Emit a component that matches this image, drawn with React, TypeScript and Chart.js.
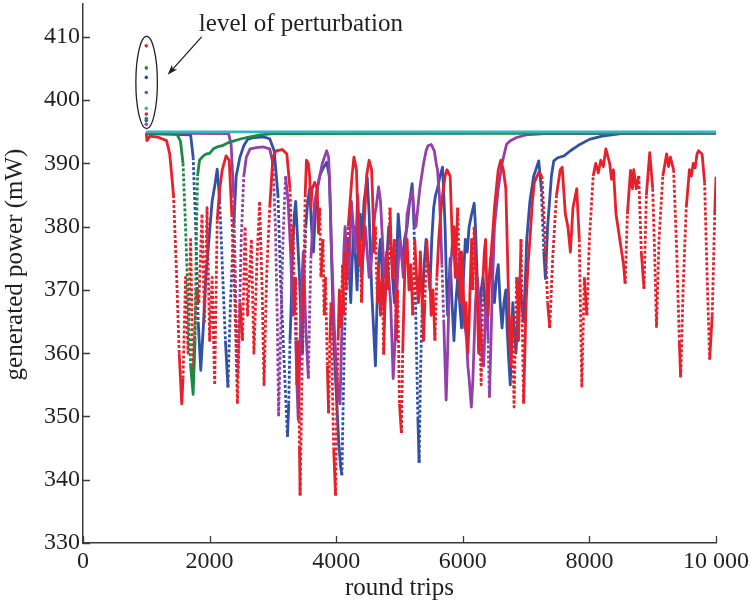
import React, { useEffect, useRef } from "react";
import { Chart, registerables } from "chart.js";

Chart.register(...registerables);

// ---------- axes ----------
const xTicks = [0, 2000, 4000, 6000, 8000, 10000];
const xTickLabels = ["0", "2000", "4000", "6000", "8000", "10 000"];
const yTicks = [330, 340, 350, 360, 370, 380, 390, 400, 410];
const yTickLabels = ["330", "340", "350", "360", "370", "380", "390", "400", "410"];
const xTitle = "round trips";
const yTitle = "generated power (mW)";
const annotationText = "level of perturbation";

// ---------- perturbation levels at round trip 1000 ----------
const perturbX = [1000, 1000, 1000, 1000, 1000, 1000, 1000, 1000, 1000];
const perturbY = [408.6, 405.1, 403.6, 401.2, 398.7, 397.8, 397.1, 396.8, 396.2];
const perturbColor = ["red", "green", "blue", "purple", "cyan", "red", "green", "blue", "purple"];

// ---------- series ----------
const cyanData: [number, number][] = [[1000, 395.0], [10000, 395.0]];

const greenData: [number, number][] = [
  [1000, 394.8], [1480, 394.7], [1540, 393.5], [1580, 390], [1620, 380], [1660, 368], [1700, 358],
  [1740, 353.5], [1770, 362], [1790, 378], [1810, 388], [1840, 390.5], [1900, 391.2], [1950, 391.5],
  [2000, 391.6], [2060, 392.3], [2120, 392.6], [2200, 392.8], [2300, 393.3], [2400, 393.6],
  [2500, 393.9], [2600, 394.1], [2800, 394.5], [3000, 394.7], [10000, 394.8],
];

const redData: [number, number][] = [
  [1000, 394.8], [1010, 393.6], [1060, 394.3], [1200, 394.1], [1320, 393.6], [1370, 391.5], [1430, 385],
  [1480, 372], [1520, 360], [1560, 352], [1580, 356], [1620, 372], [1660, 360], [1700, 378], [1740, 356],
  [1790, 370], [1830, 368], [1880, 382], [1920, 365], [1960, 383], [2000, 362], [2040, 372], [2080, 355],
  [2120, 381], [2160, 386], [2200, 389], [2260, 391.2], [2310, 390.5], [2350, 382], [2400, 368],
  [2440, 352], [2480, 368], [2520, 362], [2560, 380], [2600, 366], [2660, 378], [2700, 360], [2750, 375],
  [2790, 384], [2830, 370], [2860, 355], [2900, 372], [2950, 383], [3000, 391], [3050, 392], [3150, 392.2],
  [3220, 391.5], [3270, 386], [3300, 376], [3320, 380], [3340, 366], [3360, 372], [3380, 355], [3400, 362],
  [3420, 345], [3430, 337.5], [3450, 350], [3470, 365], [3490, 372], [3510, 385], [3530, 390.5],
  [3560, 390], [3580, 388], [3600, 383], [3620, 386], [3660, 387], [3700, 386], [3720, 379], [3740, 383],
  [3760, 372], [3790, 378], [3810, 366], [3830, 372], [3860, 358], [3880, 350.5], [3900, 362], [3920, 368],
  [3940, 355], [3960, 345], [3990, 337.5], [4010, 352], [4030, 362], [4050, 370], [4080, 364], [4100, 374],
  [4120, 366], [4140, 376], [4160, 370], [4190, 380], [4220, 384], [4250, 388], [4280, 391], [4320, 389],
  [4340, 382], [4360, 374], [4380, 378], [4400, 368], [4420, 376], [4450, 382], [4480, 388], [4520, 390.5],
  [4560, 389], [4580, 383], [4600, 376], [4620, 380], [4650, 368], [4670, 374], [4700, 366], [4730, 372],
  [4750, 359.8], [4770, 368], [4800, 376], [4820, 370], [4850, 383], [4870, 376], [4900, 372], [4920, 378],
  [4950, 362], [4970, 370], [5000, 352], [5030, 347.4], [5050, 360], [5070, 368], [5090, 375], [5120, 378],
  [5150, 370], [5180, 374], [5210, 366], [5240, 378], [5270, 372], [5300, 368], [5330, 376], [5350, 370],
  [5380, 362], [5400, 368], [5430, 378], [5450, 374], [5480, 372], [5500, 366], [5530, 370], [5560, 362],
  [5590, 372], [5620, 378], [5650, 382], [5680, 385], [5720, 388], [5750, 389], [5800, 388], [5820, 382],
  [5840, 376], [5860, 380], [5880, 372], [5900, 378], [5920, 383], [5940, 374], [5960, 368], [5980, 376],
  [6000, 372], [6030, 364], [6050, 368], [6080, 360], [6100, 365], [6120, 372], [6140, 378], [6160, 370],
  [6180, 380], [6200, 374], [6230, 368], [6250, 360], [6270, 364], [6290, 355], [6320, 372], [6340, 376],
  [6360, 378], [6380, 370], [6400, 366], [6420, 372], [6450, 376], [6480, 380], [6500, 383], [6560, 389],
  [6600, 390.5], [6640, 389], [6680, 386], [6700, 378], [6720, 370], [6740, 362], [6760, 358], [6780, 366],
  [6810, 351.5], [6830, 362], [6850, 372], [6870, 368], [6880, 362], [6900, 370], [6920, 378], [6940, 365],
  [6960, 352], [6980, 360], [7000, 368], [7030, 374], [7060, 378], [7100, 384], [7130, 387], [7200, 388.6],
  [7250, 388], [7300, 378], [7340, 368], [7374, 364], [7420, 375], [7480, 385], [7540, 389], [7570, 389.4],
  [7620, 382], [7660, 380], [7700, 376], [7740, 383], [7800, 386], [7840, 378], [7880, 354.6],
  [7920, 372], [7960, 366], [8000, 378], [8060, 388], [8100, 390], [8140, 388.5], [8180, 390.5], [8220, 389.5],
  [8260, 392.3], [8320, 390], [8350, 387.5], [8380, 389], [8420, 382], [8480, 378], [8540, 374], [8565, 371],
  [8600, 382], [8650, 388.9], [8680, 386], [8700, 389], [8740, 386], [8780, 388], [8820, 376], [8863, 370.2],
  [8900, 385], [8953, 391.7], [9000, 386], [9030, 376], [9060, 364.2], [9100, 378], [9160, 388],
  [9220, 391.5], [9250, 389.5], [9280, 391], [9330, 389], [9380, 376], [9420, 362], [9442, 356.2],
  [9480, 370], [9530, 383], [9580, 389], [9610, 388], [9640, 390], [9670, 389.3], [9700, 391.5],
  [9724, 392], [9780, 391.5], [9820, 387], [9860, 372], [9900, 359], [9940, 366], [9980, 382], [10000, 387.9],
];

const purpleData: [number, number][] = [
  [1000, 394.8], [2300, 394.7], [2340, 393], [2380, 385], [2410, 370], [2440, 356], [2470, 365],
  [2500, 378], [2540, 388], [2580, 391], [2640, 392.3], [2740, 392.5], [2850, 392.6], [2950, 392.3],
  [3000, 390], [3040, 380], [3070, 365], [3090, 350], [3120, 362], [3160, 378], [3200, 388], [3240, 384],
  [3260, 380], [3280, 376], [3300, 370], [3320, 366], [3340, 372], [3360, 362], [3380, 355], [3400, 349.5],
  [3420, 358], [3440, 366], [3460, 372], [3480, 376], [3500, 370], [3520, 364], [3540, 360], [3560, 356],
  [3580, 366], [3600, 375], [3630, 380], [3660, 384], [3700, 386], [3740, 388], [3780, 390], [3850, 392],
  [3880, 391], [3900, 386], [3920, 378], [3950, 370], [3970, 364], [4000, 358], [4030, 354], [4060, 352],
  [4080, 360], [4100, 368], [4120, 376], [4140, 380], [4170, 374], [4200, 372], [4220, 378], [4240, 384],
  [4270, 380], [4300, 376], [4320, 380], [4340, 385], [4370, 378], [4400, 372], [4430, 376], [4460, 380],
  [4490, 376], [4520, 372], [4550, 374], [4580, 378], [4610, 382], [4630, 383], [4670, 386.3], [4700, 384],
  [4720, 380], [4740, 376], [4760, 372], [4780, 374], [4800, 376], [4830, 372], [4860, 368], [4880, 362],
  [4900, 356], [4930, 362], [4950, 368], [4980, 374], [5000, 378], [5030, 376], [5060, 372], [5090, 376],
  [5120, 382], [5160, 384], [5205, 385.7], [5230, 382], [5260, 380], [5290, 383], [5320, 386], [5350, 388],
  [5380, 390], [5420, 392], [5450, 392.8], [5500, 393], [5550, 392], [5580, 390], [5600, 389], [5630, 385],
  [5650, 380], [5670, 374], [5700, 365], [5720, 358], [5737, 352.6], [5760, 360], [5780, 368], [5810, 374],
  [5840, 378], [5870, 375], [5900, 372], [5930, 374], [5950, 376], [5980, 372], [6000, 368], [6030, 365],
  [6060, 362], [6080, 358], [6100, 356], [6135, 351.5], [6160, 356], [6180, 362], [6200, 368], [6230, 372],
  [6260, 368], [6280, 365], [6300, 360], [6330, 358], [6350, 364], [6380, 370], [6400, 362], [6420, 353],
  [6440, 360], [6460, 368], [6480, 374], [6500, 380], [6560, 386], [6620, 390], [6690, 393], [6750, 393.6],
  [6850, 394.1], [7000, 394.5], [7300, 394.7], [10000, 394.8],
];

const blueData: [number, number][] = [
  [1000, 394.7], [1700, 394.5], [1740, 391], [1780, 380], [1820, 365], [1860, 357.3], [1900, 364],
  [1940, 372], [1990, 378], [2040, 384], [2090, 387], [2120, 389.1], [2160, 384], [2200, 374],
  [2250, 362], [2290, 354.6], [2330, 368], [2380, 380], [2420, 388], [2480, 391], [2540, 392.8],
  [2600, 393.8], [2700, 394.1], [2850, 394.2], [2950, 393.9], [3020, 392], [3080, 385], [3120, 372],
  [3180, 358], [3230, 346.8], [3250, 352], [3270, 362], [3290, 368], [3310, 376], [3340, 382], [3360, 384],
  [3390, 378], [3420, 372], [3440, 366], [3470, 360], [3490, 370], [3520, 380], [3550, 384], [3580, 386],
  [3610, 380], [3640, 376], [3670, 382], [3700, 386], [3740, 388], [3780, 389], [3850, 390.2], [3890, 388],
  [3910, 382], [3930, 374], [3950, 366], [3980, 358], [4010, 352], [4040, 346], [4070, 342], [4090, 340.7],
  [4110, 352], [4130, 362], [4160, 372], [4180, 378], [4200, 374], [4230, 368], [4250, 374], [4280, 380],
  [4300, 376], [4330, 370], [4350, 376], [4380, 382], [4410, 378], [4440, 384], [4490, 387.8], [4520, 382],
  [4540, 376], [4560, 370], [4580, 366], [4600, 362], [4620, 358], [4640, 366], [4660, 372], [4680, 376],
  [4700, 378], [4730, 372], [4760, 366], [4780, 370], [4800, 375], [4830, 380], [4860, 378], [4890, 372],
  [4920, 368], [4950, 374], [4980, 382], [5010, 378], [5050, 374], [5080, 378], [5120, 380], [5160, 384],
  [5200, 386.8], [5230, 380], [5250, 370], [5270, 360], [5290, 350], [5310, 342.7], [5330, 356], [5360, 368],
  [5390, 374], [5420, 378], [5450, 374], [5480, 370], [5510, 378], [5540, 383], [5570, 385], [5600, 386],
  [5640, 388], [5680, 389.4], [5700, 385], [5720, 380], [5740, 372], [5760, 366], [5780, 370], [5800, 375],
  [5830, 368], [5860, 362], [5890, 368], [5920, 372], [5950, 368], [5980, 364], [6010, 372], [6040, 378],
  [6070, 376], [6100, 380], [6140, 382], [6180, 383.7], [6200, 380], [6220, 374], [6240, 368], [6260, 364],
  [6290, 370], [6320, 372], [6350, 368], [6380, 364], [6410, 370], [6440, 375], [6470, 372], [6500, 368],
  [6530, 372], [6560, 374], [6590, 368], [6620, 364], [6650, 368], [6680, 370], [6700, 364], [6720, 360],
  [6750, 355], [6770, 362], [6790, 368], [6810, 364], [6840, 360], [6870, 366], [6900, 372], [6930, 368],
  [6960, 365], [6990, 372], [7010, 378], [7060, 384], [7120, 388], [7200, 390.4], [7240, 386], [7280, 376],
  [7305, 371.8], [7340, 380], [7400, 388], [7437, 390.4], [7500, 390.9], [7600, 391.2], [7700, 392],
  [7850, 393], [8000, 393.8], [8200, 394.3], [8500, 394.7], [10000, 394.8],
];

// ---------- annotation anchors (data space) ----------
const ellipseCenter = [1005, 402.8];
const ellipseRadius = [170, 7.3];
const arrowFrom = [1874, 410.0];
const arrowTo = [1337, 404.0];
const textAnchor = [3442, 411.0];

const COLORS: Record<string, string> = {
  red: "#e8202b",
  green: "#1b8a45",
  blue: "#3150a6",
  purple: "#9440a8",
  cyan: "#33b6bf",
};
const AXIS = "#3b3b3b";
const TEXT = "#231f20";
const FONT = "'Liberation Serif', 'Times New Roman', serif";

const toPts = (d: [number, number][]) => d.map(([x, y]) => ({ x, y }));

function seriesDataset(label: string, data: [number, number][], color: string) {
  return {
    label,
    data: toPts(data),
    showLine: true,
    borderColor: color,
    backgroundColor: color,
    borderWidth: 2.8,
    borderJoinStyle: "round",
    pointRadius: 0,
    pointHoverRadius: 0,
    segment: {
      borderDash: (ctx: any) => {
        const dx = Math.abs(ctx.p1.x - ctx.p0.x);
        const dy = Math.abs(ctx.p1.y - ctx.p0.y);
        return dy > 55 && dy > 8 * dx ? [3, 2] : undefined;
      },
    },
  };
}

const decorPlugin = {
  id: "decor",
  afterDraw(chart: any) {
    const { ctx, chartArea, scales } = chart;
    const xs = scales.x;
    const ys = scales.y;
    ctx.save();
    // inward tick marks
    ctx.strokeStyle = AXIS;
    ctx.lineWidth = 1.3;
    ctx.beginPath();
    xTicks.forEach((v) => {
      const px = Math.round(xs.getPixelForValue(v)) + 0.5;
      ctx.moveTo(px, chartArea.bottom);
      ctx.lineTo(px, chartArea.bottom - 7);
    });
    yTicks.forEach((v) => {
      const py = Math.round(ys.getPixelForValue(v)) + 0.5;
      ctx.moveTo(chartArea.left, py);
      ctx.lineTo(chartArea.left + 7, py);
    });
    ctx.stroke();

    // ellipse around perturbation levels
    const cx = xs.getPixelForValue(ellipseCenter[0]);
    const cy = ys.getPixelForValue(ellipseCenter[1]);
    const rx = Math.abs(xs.getPixelForValue(ellipseCenter[0] + ellipseRadius[0]) - cx);
    const ry = Math.abs(ys.getPixelForValue(ellipseCenter[1] + ellipseRadius[1]) - cy);
    ctx.strokeStyle = "#222";
    ctx.lineWidth = 1.3;
    ctx.beginPath();
    ctx.ellipse(cx, cy, rx, ry, 0, 0, Math.PI * 2);
    ctx.stroke();

    // arrow
    const ax0 = xs.getPixelForValue(arrowFrom[0]);
    const ay0 = ys.getPixelForValue(arrowFrom[1]);
    const ax1 = xs.getPixelForValue(arrowTo[0]);
    const ay1 = ys.getPixelForValue(arrowTo[1]);
    const ang = Math.atan2(ay1 - ay0, ax1 - ax0);
    const head = 11;
    ctx.beginPath();
    ctx.moveTo(ax0, ay0);
    ctx.lineTo(ax1 - Math.cos(ang) * 6, ay1 - Math.sin(ang) * 6);
    ctx.stroke();
    ctx.fillStyle = "#222";
    ctx.beginPath();
    ctx.moveTo(ax1, ay1);
    ctx.lineTo(ax1 - head * Math.cos(ang - 0.33), ay1 - head * Math.sin(ang - 0.33));
    ctx.lineTo(ax1 - head * 0.7 * Math.cos(ang), ay1 - head * 0.7 * Math.sin(ang));
    ctx.lineTo(ax1 - head * Math.cos(ang + 0.33), ay1 - head * Math.sin(ang + 0.33));
    ctx.closePath();
    ctx.fill();

    // annotation text
    ctx.fillStyle = TEXT;
    ctx.font = `25px ${FONT}`;
    ctx.textAlign = "center";
    ctx.textBaseline = "alphabetic";
    ctx.fillText(annotationText, xs.getPixelForValue(textAnchor[0]), ys.getPixelForValue(textAnchor[1]));

    // axis titles
    ctx.fillText(xTitle, (chartArea.left + chartArea.right) / 2, chart.height - 8);
    ctx.save();
    ctx.translate(15, (chartArea.top + chartArea.bottom) / 2 - 9);
    ctx.rotate(-Math.PI / 2);
    ctx.textBaseline = "middle";
    ctx.fillText(yTitle, 0, 0);
    ctx.restore();

    ctx.restore();
  },
};

export default function App() {
  const ref = useRef<HTMLCanvasElement | null>(null);

  useEffect(() => {
    document.body.style.margin = "0";
    const canvas = ref.current;
    if (!canvas) return;

    const perturbDatasets = perturbX.map((x, i) => ({
      label: "perturbation " + i,
      data: [{ x, y: perturbY[i] }],
      showLine: false,
      pointRadius: 1.8,
      pointBorderWidth: 0,
      pointBackgroundColor: COLORS[perturbColor[i]],
      borderColor: COLORS[perturbColor[i]],
      backgroundColor: COLORS[perturbColor[i]],
    }));

    const chart = new Chart(canvas, {
      type: "scatter",
      data: {
        datasets: [
          ...perturbDatasets,
          seriesDataset("cyan", cyanData, COLORS.cyan),
          seriesDataset("green", greenData, COLORS.green),
          seriesDataset("red", redData, COLORS.red),
          seriesDataset("purple", purpleData, COLORS.purple),
          seriesDataset("blue", blueData, COLORS.blue),
        ] as any,
      },
      options: {
        animation: false,
        responsive: false,
        events: [],
        layout: { padding: { left: 0, right: 34, top: 0, bottom: 0 } },
        plugins: {
          legend: { display: false },
          tooltip: { enabled: false },
          title: { display: false },
        },
        scales: {
          x: {
            type: "linear",
            min: 0,
            max: 10000,
            grid: { display: false, drawTicks: false },
            border: { display: true, color: AXIS, width: 1.5 },
            afterBuildTicks: (scale: any) => {
              scale.ticks = xTicks.map((v) => ({ value: v }));
            },
            afterFit: (scale: any) => {
              scale.height = 60;
              scale.paddingLeft = 0;
              scale.paddingRight = 0;
            },
            ticks: {
              autoSkip: false,
              maxRotation: 0,
              padding: 4,
              color: TEXT,
              font: { family: FONT, size: 24 },
              callback: (v: any) => {
                const i = xTicks.indexOf(Number(v));
                return i >= 0 ? xTickLabels[i] : "";
              },
            },
          },
          y: {
            type: "linear",
            min: 330,
            max: 415.2,
            grid: { display: false, drawTicks: false },
            border: { display: true, color: AXIS, width: 1.5 },
            afterBuildTicks: (scale: any) => {
              scale.ticks = yTicks.map((v) => ({ value: v }));
            },
            afterFit: (scale: any) => {
              scale.width = 83;
              scale.paddingTop = 0;
              scale.paddingBottom = 0;
            },
            ticks: {
              autoSkip: false,
              padding: 3,
              color: TEXT,
              font: { family: FONT, size: 24 },
              callback: (v: any) => {
                const i = yTicks.indexOf(Number(v));
                return i >= 0 ? yTickLabels[i] : "";
              },
            },
          },
        },
      },
      plugins: [decorPlugin],
    });

    return () => chart.destroy();
  }, []);

  return (
    <div style={{ width: 750, height: 603, background: "#fff" }}>
      <canvas ref={ref} width={750} height={603} style={{ display: "block" }} />
    </div>
  );
}
